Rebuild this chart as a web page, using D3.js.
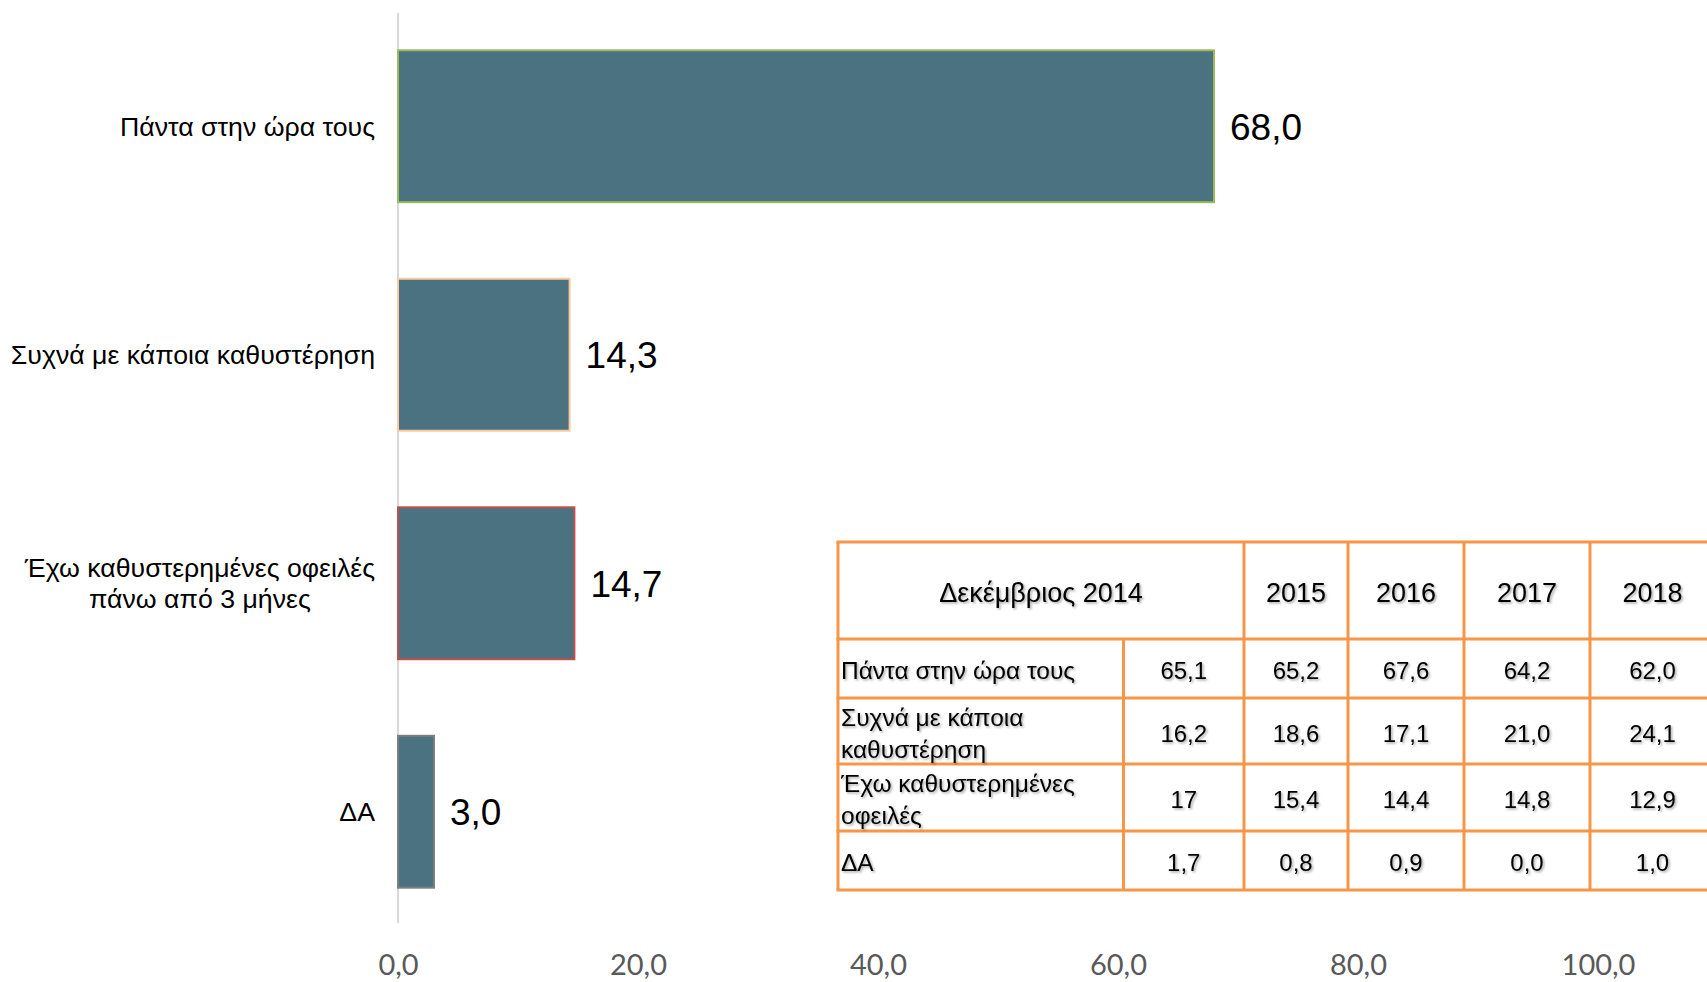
<!DOCTYPE html>
<html>
<head>
<meta charset="utf-8">
<script src="https://cdn.jsdelivr.net/npm/d3@7"></script>
<style>
  body { margin: 0; background: #fff; overflow: hidden; }
</style>
</head>
<body>
<div id="chart"></div>
<script>
// Chart data
var categories = ["Πάντα στην ώρα τους", "Συχνά με κάποια καθυστέρηση", "Έχω καθυστερημένες οφειλές|πάνω από 3 μήνες", "ΔΑ"];
var values = [68.0, 14.3, 14.7, 3.0];
var borderColors = ["#9bbb59", "#f9c9a0", "#c0504d", "#7f7f7f"];
var xTicks = [0, 20, 40, 60, 80, 100];

// Table data
var tableHeaders = ["Δεκέμβριος 2014", "2015", "2016", "2017", "2018"];
var tableRowLabels = ["Πάντα στην ώρα τους", "Συχνά με κάποια|καθυστέρηση", "Έχω καθυστερημένες|οφειλές", "ΔΑ"];
var tableValues = [
    ["65,1", "65,2", "67,6", "64,2", "62,0"],
    ["16,2", "18,6", "17,1", "21,0", "24,1"],
    ["17", "15,4", "14,4", "14,8", "12,9"],
    ["1,7", "0,8", "0,9", "0,0", "1,0"]
];

var svgWidth = 1707;
var svgHeight = 982;

var svg = d3.select("#chart")
    .append("svg")
    .attr("width", svgWidth)
    .attr("height", svgHeight);

var defs = svg.append("defs");
defs.append("filter")
    .attr("id", "shadow")
    .attr("x", "-10%").attr("y", "-30%")
    .attr("width", "130%").attr("height", "160%")
    .append("feDropShadow")
    .attr("dx", 1.5).attr("dy", 1.5)
    .attr("stdDeviation", 1)
    .attr("flood-color", "#000")
    .attr("flood-opacity", 0.35);

var fmt = function (v) { return d3.format(".1f")(v).replace(".", ","); };

// Scales
var xScale = d3.scaleLinear()
    .domain([0, 100])
    .range([398, 1598]);

var yScale = d3.scaleBand()
    .domain(categories)
    .range([12, 926])
    .paddingInner(0.335)
    .paddingOuter(0.1675);

// Axis line
svg.append("line")
    .attr("x1", xScale(0)).attr("x2", xScale(0))
    .attr("y1", 13).attr("y2", 923)
    .attr("stroke", "#d9d9d9")
    .attr("stroke-width", 2);

// Bottom axis (labels only)
var bottomAxis = d3.axisBottom(xScale)
    .tickValues(xTicks)
    .tickSize(0)
    .tickPadding(0)
    .tickFormat(fmt);

var axisG = svg.append("g")
    .attr("transform", "translate(0, 954)")
    .call(bottomAxis);
axisG.select(".domain").remove();
axisG.selectAll("text")
    .attr("font-family", "Lato, sans-serif")
    .attr("font-size", "29px")
    .attr("fill", "#595959");

// Bars
svg.selectAll(".bar")
    .data(values)
    .enter()
    .append("rect")
    .attr("class", "bar")
    .attr("x", xScale(0))
    .attr("y", (d, i) => yScale(categories[i]))
    .attr("width", d => xScale(d) - xScale(0))
    .attr("height", yScale.bandwidth())
    .attr("fill", "#4a7280")
    .attr("stroke", (d, i) => borderColors[i])
    .attr("stroke-width", 2);

// Value labels
svg.selectAll(".value")
    .data(values)
    .enter()
    .append("text")
    .attr("class", "value")
    .attr("x", d => xScale(d) + 16)
    .attr("y", (d, i) => yScale(categories[i]) + yScale.bandwidth() / 2)
    .attr("dy", "0.36em")
    .attr("font-family", "'Liberation Sans', Arial, sans-serif")
    .attr("font-size", "37px")
    .attr("fill", "#000")
    .text(fmt);

// Category labels
categories.forEach(function (c, i) {
    var lines = c.split("|");
    var cy = yScale(c) + yScale.bandwidth() / 2;
    var t = svg.append("text")
        .attr("font-family", "'Liberation Sans', Arial, sans-serif")
        .attr("font-size", "26.7px")
        .attr("fill", "#000")
        .attr("text-anchor", lines.length > 1 ? "middle" : "end");
    lines.forEach(function (l, j) {
        t.append("tspan")
            .attr("y", cy + (j - (lines.length - 1) / 2) * 31)
            .attr("dy", "0.36em")
            .text(l);
    });
    if (lines.length > 1) {
        var w = t.select("tspan").node().getComputedTextLength();
        t.selectAll("tspan").attr("x", 375 - w / 2);
    } else {
        t.selectAll("tspan").attr("x", 375);
    }
});

// Table
var colX = [838, 1123.5, 1244, 1348, 1464, 1590, 1715];
var rowY = [542, 639, 698, 764, 831, 890];
var tableColor = "#f79646";
var tableG = svg.append("g");

// horizontal lines
tableG.selectAll(".hline")
    .data(rowY)
    .enter()
    .append("line")
    .attr("x1", colX[0] - 1.5).attr("x2", colX[colX.length - 1] + 1.5)
    .attr("y1", d => d).attr("y2", d => d)
    .attr("stroke", tableColor)
    .attr("stroke-width", 3);

// vertical lines
tableG.selectAll(".vline")
    .data(colX)
    .enter()
    .append("line")
    .attr("x1", d => d).attr("x2", d => d)
    .attr("y1", (d, i) => i === 1 ? rowY[1] : rowY[0])
    .attr("y2", rowY[rowY.length - 1])
    .attr("stroke", tableColor)
    .attr("stroke-width", 3);

var textG = tableG.append("g").attr("filter", "url(#shadow)");

// header cells
var headerCenters = [(colX[0] + colX[2]) / 2, (colX[2] + colX[3]) / 2, (colX[3] + colX[4]) / 2, (colX[4] + colX[5]) / 2, (colX[5] + colX[6]) / 2];
textG.selectAll(".head")
    .data(tableHeaders)
    .enter()
    .append("text")
    .attr("x", (d, i) => headerCenters[i])
    .attr("y", (rowY[0] + rowY[1]) / 2 + 2)
    .attr("dy", "0.36em")
    .attr("text-anchor", "middle")
    .attr("font-family", "'Liberation Sans', Arial, sans-serif")
    .attr("font-size", "27px")
    .text(d => d);

// row labels and values
tableRowLabels.forEach(function (r, i) {
    var cy = (rowY[i + 1] + rowY[i + 2]) / 2;
    var lines = r.split("|");
    var t = textG.append("text")
        .attr("font-family", "'Liberation Sans', Arial, sans-serif")
        .attr("font-size", "24.5px");
    lines.forEach(function (l, j) {
        t.append("tspan")
            .attr("x", colX[0] + 3)
            .attr("y", cy + 2 + (j - (lines.length - 1) / 2) * 32)
            .attr("dy", "0.36em")
            .text(l);
    });
    textG.selectAll(".val" + i)
        .data(tableValues[i])
        .enter()
        .append("text")
        .attr("x", (d, k) => (colX[k + 1] + colX[k + 2]) / 2)
        .attr("y", cy + 2)
        .attr("dy", "0.36em")
        .attr("text-anchor", "middle")
        .attr("font-family", "'Liberation Sans', Arial, sans-serif")
        .attr("font-size", "24px")
        .text(d => d);
});
</script>
</body>
</html>
